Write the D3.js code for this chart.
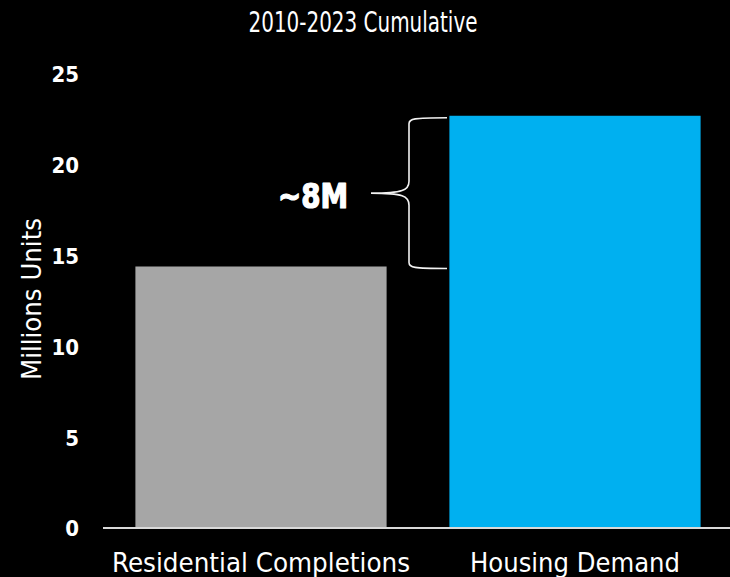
<!DOCTYPE html>
<html>
<head>
<meta charset="utf-8">
<script src="https://cdn.jsdelivr.net/npm/d3@7"></script>
<style>
  html, body { margin: 0; padding: 0; background: #000; }
  svg { display: block; }
  text { font-family: "Liberation Sans Narrow", "DejaVu Sans Condensed", sans-serif; fill: #fff; }
</style>
</head>
<body>
<svg id="chart" width="730" height="577"></svg>
<script>
// Cumulative housing figures, 2010-2023 (millions of units)
const categories = ["Residential Completions", "Housing Demand"];
const values = [14.4, 22.7];
const barColors = ["#a6a6a6", "#00b0f0"];
const yTicks = [0, 5, 10, 15, 20, 25];
const gapLabel = "~8M";
const titleText = "2010-2023 Cumulative";
const yTitle = "Millions Units";
const labelWidths = [298, 210];

const svg = d3.select("#chart");
const W = 730, H = 577;

svg.append("rect").attr("width", W).attr("height", H).attr("fill", "#000");

const x = d3.scaleBand().domain(categories).range([104, 732])
  .paddingInner(0.2).paddingOuter(0.1);
const y = d3.scaleLinear().domain([0, 25]).range([528, 74]);

// Title
svg.append("text")
  .attr("x", 363).attr("y", 32)
  .attr("text-anchor", "middle")
  .attr("font-size", 29)
  .attr("textLength", 229).attr("lengthAdjust", "spacingAndGlyphs")
  .text(titleText);

// Bars
svg.selectAll("rect.bar").data(categories).join("rect")
  .attr("class", "bar")
  .attr("x", d => x(d))
  .attr("width", x.bandwidth())
  .attr("y", (d, i) => y(values[i]))
  .attr("height", (d, i) => y(0) - y(values[i]))
  .attr("fill", (d, i) => barColors[i]);

// Y axis (labels only)
const yAxis = svg.append("g")
  .attr("transform", "translate(79,0)")
  .call(d3.axisLeft(y).tickValues(yTicks).tickSize(0).tickPadding(0));
yAxis.select(".domain").remove();
yAxis.selectAll("text")
  .attr("font-size", 22).attr("font-weight", "bold")
  .attr("font-family", "'Liberation Sans Narrow', 'DejaVu Sans Condensed', sans-serif")
  .attr("fill", "#fff").attr("dy", "0.36em");

// Baseline
svg.append("line")
  .attr("x1", 103).attr("x2", W)
  .attr("y1", y(0)).attr("y2", y(0))
  .attr("stroke", "#d9d9d9").attr("stroke-width", 2);

// X axis labels
const xAxis = svg.append("g")
  .attr("transform", `translate(0,${y(0)})`)
  .call(d3.axisBottom(x).tickSize(0).tickPadding(0));
xAxis.select(".domain").remove();
xAxis.selectAll("text")
  .attr("font-size", 27)
  .attr("font-family", "'Liberation Sans Narrow', 'DejaVu Sans Condensed', sans-serif")
  .attr("fill", "#fff")
  .attr("y", 44).attr("dy", 0)
  .attr("textLength", (d, i) => labelWidths[i])
  .attr("lengthAdjust", "spacingAndGlyphs");

// Y axis title
svg.append("text")
  .attr("transform", "translate(41,299) rotate(-90)")
  .attr("text-anchor", "middle")
  .attr("font-size", 27)
  .attr("textLength", 162).attr("lengthAdjust", "spacingAndGlyphs")
  .text(yTitle);

// Brace spanning the gap between the two bar tops
const yTop = y(values[1]) + 2;
const yBot = y(values[0]) + 2;
const yMid = (yTop + yBot) / 2;
const xRight = 447, xSpine = 409, xTip = 371;
const r = 6;
const brace = d3.path();
brace.moveTo(xRight, yTop);
brace.bezierCurveTo(xSpine + 4, yTop, xSpine, yTop + 1, xSpine, yTop + r);
brace.lineTo(xSpine, yMid - 12);
brace.bezierCurveTo(xSpine, yMid - 3, xSpine - 6, yMid, xTip, yMid);
brace.bezierCurveTo(xSpine - 6, yMid, xSpine, yMid + 3, xSpine, yMid + 12);
brace.lineTo(xSpine, yBot - r);
brace.bezierCurveTo(xSpine, yBot - 1, xSpine + 4, yBot, xRight, yBot);
svg.append("path")
  .attr("d", brace.toString())
  .attr("fill", "none")
  .attr("stroke", "#f2f2f2")
  .attr("stroke-width", 1.6);

// Gap label (heavy weight)
svg.append("text")
  .attr("x", 313).attr("y", yMid + 15)
  .attr("text-anchor", "middle")
  .attr("font-family", "'Liberation Sans', Arial, sans-serif")
  .attr("font-weight", "bold")
  .attr("font-size", 33)
  .attr("stroke", "#fff").attr("stroke-width", 1.2)
  .attr("stroke-linejoin", "round")
  .attr("textLength", 70).attr("lengthAdjust", "spacingAndGlyphs")
  .text(gapLabel);
</script>
</body>
</html>
